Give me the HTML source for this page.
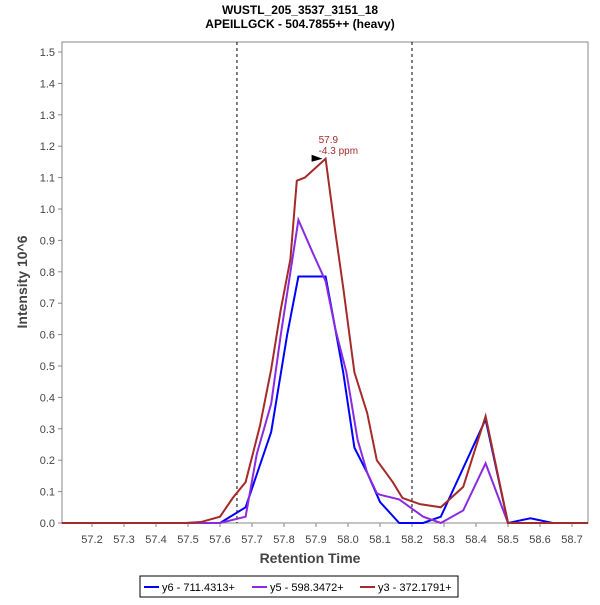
<!DOCTYPE html>
<html><head><meta charset="utf-8"><style>
body{margin:0;background:#fff;font-family:"Liberation Sans",sans-serif}
svg text{font-family:"Liberation Sans",sans-serif}
</style></head><body>
<svg id="c" width="600" height="600" xmlns="http://www.w3.org/2000/svg">
<text x="300" y="14" text-anchor="middle" font-size="12" font-weight="bold">WUSTL_205_3537_3151_18</text>
<text x="300" y="28" text-anchor="middle" font-size="12" font-weight="bold">APEILLGCK - 504.7855++ (heavy)</text>
<rect x="62" y="42" width="526" height="481" fill="none" stroke="#888"/>
<g id="axes"></g><g id="series"></g>
<text x="310" y="563" text-anchor="middle" font-size="14" font-weight="bold" fill="#444">Retention Time</text>
<text transform="translate(27,282) rotate(-90)" text-anchor="middle" font-size="14" font-weight="bold" fill="#444">Intensity 10^6</text>
<g>
<rect x="140" y="576" width="318" height="21" fill="#fff" stroke="#000"/>
<g><line x1="144" y1="587" x2="159" y2="587" stroke="#0000ff" stroke-width="2"/><text x="162" y="591" font-size="11">y6 - 711.4313+</text></g>
<g><line x1="252" y1="587" x2="267" y2="587" stroke="#8a2be2" stroke-width="2"/><text x="270" y="591" font-size="11">y5 - 598.3472+</text></g>
<g><line x1="360" y1="587" x2="375" y2="587" stroke="#a52a2a" stroke-width="2"/><text x="378" y="591" font-size="11">y3 - 372.1791+</text></g>
</g>
</svg>
<script>
const xTicks=[57.2,57.3,57.4,57.5,57.6,57.7,57.8,57.9,58.0,58.1,58.2,58.3,58.4,58.5,58.6,58.7];
const yTicks=[0,0.1,0.2,0.3,0.4,0.5,0.6,0.7,0.8,0.9,1.0,1.1,1.2,1.3,1.4,1.5];
const boundaries=[57.653,58.2];
const y3X=[57.106,57.49,57.54,57.60,57.64,57.68,57.725,57.76,57.79,57.82,57.84,57.865,57.93,57.96,57.985,58.02,58.06,58.09,58.14,58.17,58.225,58.29,58.36,58.43,58.5,58.75];
const y3Y=[0,0,0.003,0.02,0.08,0.13,0.31,0.49,0.68,0.84,1.09,1.10,1.16,0.93,0.75,0.48,0.35,0.20,0.13,0.08,0.06,0.05,0.115,0.34,0,0];
const y5X=[57.106,57.60,57.68,57.715,57.76,57.79,57.845,57.89,57.93,57.96,57.995,58.03,58.06,58.09,58.1,58.16,58.235,58.29,58.36,58.43,58.5,58.75];
const y5Y=[0,0,0.02,0.22,0.38,0.6,0.965,0.86,0.77,0.62,0.48,0.265,0.16,0.095,0.09,0.075,0.02,0,0.04,0.19,0,0];
const y6X=[57.106,57.60,57.68,57.76,57.81,57.845,57.89,57.93,57.96,57.985,58.02,58.06,58.1,58.16,58.235,58.29,58.43,58.5,58.57,58.64,58.75];
const y6Y=[0,0,0.05,0.29,0.6,0.785,0.785,0.785,0.62,0.48,0.24,0.16,0.067,0,0,0.02,0.33,0,0.015,0,0];
const peakRT=57.93, peakVal=1.16;
const NS='http://www.w3.org/2000/svg';
const X=v=>92+(v-57.2)*320, Y=v=>523-v*314;
function mk(t,a,p){const e=document.createElementNS(NS,t);for(const k in a)e.setAttribute(k,a[k]);p.appendChild(e);return e;}
const ax=document.getElementById('axes'), se=document.getElementById('series');
xTicks.forEach(v=>{
 const l=mk('line',{x1:X(v),x2:X(v),y1:523,y2:527,stroke:'#888'},ax);
 
 
 const t=mk('text',{x:X(v),y:543,'text-anchor':'middle','font-size':11,fill:'#444'},ax);
 t.textContent=v.toFixed(1);
 
 
});
yTicks.forEach(v=>{
 const l=mk('line',{x1:58,x2:62,y1:Y(v),y2:Y(v),stroke:'#888'},ax);
 
 
 const t=mk('text',{x:55,y:Y(v)+4,'text-anchor':'end','font-size':11,fill:'#444'},ax);
 t.textContent=v.toFixed(1);
 
 
});
boundaries.forEach(v=>{
 const l=mk('line',{x1:X(v),x2:X(v),y1:42,y2:523,stroke:'#000','stroke-dasharray':'3,3'},ax);
 
 
});
[[y6X,y6Y,'#0000ff','y6'],[y5X,y5Y,'#8a2be2','y5'],[y3X,y3Y,'#a52a2a','y3']].forEach(([xs,ys,c,n])=>{
 const p=mk('polyline',{points:xs.map((x,i)=>X(x)+','+Y(ys[i])).join(' '),fill:'none',stroke:c,'stroke-width':2},se);
 
 
});
const px=X(peakRT), py=Y(peakVal);
const m=mk('polygon',{points:`${px-14},${py-4} ${px-3},${py} ${px-14},${py+3}`,fill:'#000'},se);


const t1=mk('text',{x:px-7,y:py-16,'font-size':10,fill:'#a52a2a'},se);t1.textContent='57.9';


const t2=mk('text',{x:px-7,y:py-5,'font-size':10,fill:'#a52a2a'},se);t2.textContent='-4.3 ppm';


</script>
</body></html>
